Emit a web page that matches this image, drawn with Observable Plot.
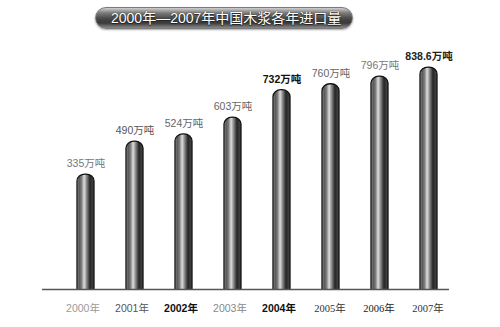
<!DOCTYPE html>
<html><head><meta charset="utf-8">
<script src="https://cdn.jsdelivr.net/npm/d3@7"></script>
<script src="https://cdn.jsdelivr.net/npm/@observablehq/plot@0.6"></script>
<style>
body{margin:0;background:#fff;}
#wrap{position:relative;width:500px;height:327px;overflow:hidden;}
#wrap svg{position:absolute;left:0;top:0;}
#title{position:absolute;left:95px;top:7px;width:258px;height:22px;border-radius:11px;box-sizing:border-box;z-index:2;
 background:linear-gradient(#cfcfcf 0%, #7a7a7a 25%, #454545 55%, #3a3a3a 75%, #8a8a8a 100%);
 border:1px solid #7a7a7a; box-shadow:0 1px 2px rgba(0,0,0,.35);
 color:#fff;font:14px/20px "Liberation Sans","Noto Sans CJK SC",sans-serif;padding-left:15px;white-space:nowrap;
 text-shadow:0 0 1px #222, 0 1px 1px #222;}
</style></head><body>
<div id="wrap"><div id="title">2000年—2007年中国木浆各年进口量</div></div>
<script>
// ---- data ----
const years = ["2000年","2001年","2002年","2003年","2004年","2005年","2006年","2007年"];
const imports = [335, 490, 524, 603, 732, 760, 796, 838.6];
const valueLabels = ["335万吨","490万吨","524万吨","603万吨","732万吨","760万吨","796万吨","838.6万吨"];

// ---- styling lookups (not data) ----
const valueColor = {"2000年":"#777","2001年":"#555","2002年":"#666","2003年":"#666","2004年":"#111","2005年":"#666","2006年":"#777","2007年":"#222"};
const valueBold = new Set(["2004年","2007年"]);
const yearColor = {"2000年":"#9a9a9a","2001年":"#555","2002年":"#111","2003年":"#888","2004年":"#111","2005年":"#333","2006年":"#222","2007年":"#333"};
const yearBold = new Set(["2002年","2004年"]);
const yearSerif = new Set(["2005年","2006年","2007年"]);

const table = years.map((y, i) => ({year: y, value: imports[i], label: valueLabels[i]}));
const yMin = -206, yMax = 900;
const sans = '"Liberation Sans","Noto Sans CJK SC",sans-serif';
const serif = '"Liberation Serif","DejaVu Serif","Noto Sans CJK SC",serif';

const defs = () => {
  const d = d3.create("svg:defs");
  const g = d.append("linearGradient").attr("id", "cyl").attr("x1", 0).attr("x2", 1).attr("y1", 0).attr("y2", 0);
  [[0,"#a8a8a8"],[0.12,"#555"],[0.26,"#7a7a7a"],[0.42,"#dedede"],[0.56,"#8c8c8c"],[0.76,"#262626"],[1,"#4a4a4a"]]
    .forEach(([o,c]) => g.append("stop").attr("offset", o).attr("stop-color", c));
  return d.node();
};

const chart = Plot.plot({
  width: 500, height: 327,
  marginLeft: 42, marginRight: 51, marginTop: 54, marginBottom: 38,
  style: {background: "transparent", fontFamily: sans},
  x: {type: "band", domain: years, range: [77, 437.5], paddingInner: 0.654, paddingOuter: 0, axis: null},
  y: {domain: [yMin, yMax], axis: null},
  marks: [
    defs,
    Plot.barY(table, {x: "year", y1: yMin - 60, y2: "value", fill: "url(#cyl)", stroke: "#111", strokeWidth: 1.3, rx: 8, ry: 7, clip: true}),
    Plot.ruleY([yMin], {stroke: "#555", strokeWidth: 1.5}),
    Plot.text(table.filter(d => !valueBold.has(d.year)), {x: "year", y: "value", text: "label", dy: -11, fontSize: 10.5, fill: d => valueColor[d.year], fontFamily: sans}),
    Plot.text(table.filter(d => valueBold.has(d.year)), {x: "year", y: "value", text: "label", dy: -11, fontSize: 10.5, fontWeight: "bold", fill: d => valueColor[d.year], fontFamily: sans}),
    Plot.text(table.filter(d => !yearBold.has(d.year) && !yearSerif.has(d.year)), {x: "year", y: yMin, text: "year", dy: 19, dx: -3, fontSize: 10.5, fill: d => yearColor[d.year], fontFamily: sans}),
    Plot.text(table.filter(d => yearBold.has(d.year)), {x: "year", y: yMin, text: "year", dy: 19, dx: -3, fontSize: 10.5, fontWeight: "bold", fill: d => yearColor[d.year], fontFamily: sans}),
    Plot.text(table.filter(d => yearSerif.has(d.year)), {x: "year", y: yMin, text: "year", dy: 19, dx: -1, fontSize: 10.5, fill: d => yearColor[d.year], fontFamily: serif})
  ]
});
document.getElementById("wrap").appendChild(chart);
</script>
</body></html>
